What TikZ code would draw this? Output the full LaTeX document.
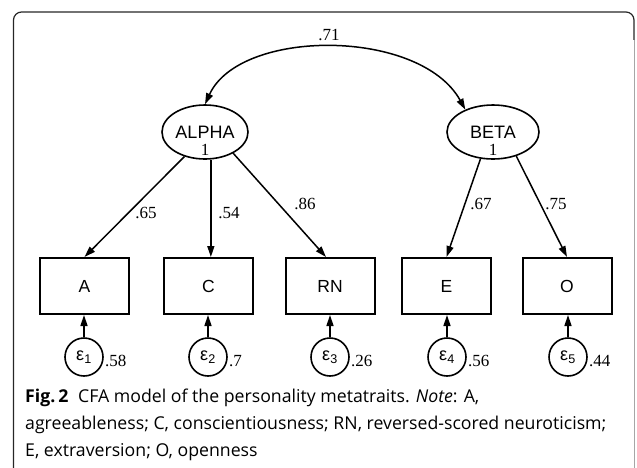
\documentclass[tikz,border=0pt]{standalone}
\usepackage{fontspec}
\setmainfont{Liberation Serif}
\newfontfamily\helv{Liberation Sans}
\newfontfamily\capfont{Open Sans}
\usetikzlibrary{shapes.geometric,arrows.meta,calc}
\begin{document}
\begin{tikzpicture}[x=1pt,y=-1pt,
  latent/.style={ellipse,draw,line width=1.6pt,minimum width=86pt,minimum height=54pt,inner sep=0pt,
    font=\helv\fontsize{18}{18}\selectfont},
  obs/.style={rectangle,draw,line width=2pt,minimum width=89pt,minimum height=56pt,
    font=\helv\fontsize{17.5}{17.5}\selectfont},
  err/.style={circle,draw,line width=1.6pt,minimum size=38pt,inner sep=0pt,
    font=\helv\fontsize{18}{18}\selectfont},
  lnk/.style={-{Triangle[length=11pt,width=7pt]},line width=1.5pt},
  coef/.style={font=\fontsize{17}{17}\selectfont},
  one/.style={anchor=center,label distance=-10pt,font=\fontsize{17}{17}\selectfont},
  capline/.style={anchor=base west,font=\capfont\fontsize{17.7}{20}\selectfont,inner sep=0pt},
]
\useasboundingbox (0,0) rectangle (637,467);
% frame
\draw[line width=1.2pt,black!85,rounded corners=8pt] (13.5,468) -- (13.5,12) -- (634,12) -- (634,468);
\draw[line width=1.2pt,white] (634,40) -- (634,468);
\draw[line width=1pt,black!35] (634,40) -- (634,468);

% latent variables
\node[latent,label={[one]-90:1}] (alpha) at (205,132) {ALPHA};
\node[latent,minimum width=92pt,label={[one]-90:1}] (beta) at (493,132) {BETA};

% observed
\node[obs] (a)  at (84.5,286) {A};
\node[obs] (c)  at (208.5,286) {C};
\node[obs] (rn) at (330,286) {RN};
\node[obs] (e)  at (446.5,286) {E};
\node[obs] (o)  at (567,286) {O};

% errors
\node[err] (e1) at (84,357)  {ε\textsubscript{1}};
\node[err] (e2) at (208,357) {ε\textsubscript{2}};
\node[err] (e3) at (330,357) {ε\textsubscript{3}};
\node[err] (e4) at (447,357) {ε\textsubscript{4}};
\node[err] (e5) at (568,357) {ε\textsubscript{5}};

\node[coef,anchor=west,inner sep=1pt] (v1) at ($(e1.east)+(0,4)$) {.58};
\node[coef,anchor=west,inner sep=1pt] (v2) at ($(e2.east)+(0,4)$) {.7};
\node[coef,anchor=west,inner sep=1pt] (v3) at ($(e3.east)+(0,4)$) {.26};
\node[coef,anchor=west,inner sep=1pt] (v4) at ($(e4.east)+(0,4)$) {.56};
\node[coef,anchor=west,inner sep=1pt] (v5) at ($(e5.east)+(0,4)$) {.44};

% covariance
\draw[lnk,{Triangle[length=11pt,width=7pt]}-{Triangle[length=11pt,width=7pt]}]
  (alpha.90) .. controls (240,28) and (420,28) .. (beta.141);
\node[coef] (r) at (329,35) {.71};

% loadings
\draw[lnk] (alpha.230) -- (a.north);
\draw[lnk] (alpha.282) -- (alpha.282 |- c.north);
\draw[lnk] (alpha.323) -- ($(rn.north)+(-4,0)$);
\draw[lnk] (beta.245) -- (e.north);
\draw[lnk] (beta.314) -- (o.north);

\node[coef] (l1) at (146,213) {.65};
\node[coef] (l2) at (229,213) {.54};
\node[coef] (l3) at (305,204) {.86};
\node[coef] (l4) at (481,204) {.67};
\node[coef] (l5) at (556,204) {.75};

% error arrows
\foreach \u/\v in {e1/a,e2/c,e3/rn,e4/e,e5/o}
  \draw[lnk] (\u.north) -- (\u.north |- \v.south);

% caption
\node[capline] (cap1) at (25,402) {\bfseries Fig.\,2\hspace{0.55em}\mdseries CFA model of the personality metatraits. \textit{Note}: A,};
\node[capline] (cap2) at (25,429) {agreeableness; C, conscientiousness; RN, reversed-scored neuroticism;};
\node[capline] (cap3) at (25,456) {E, extraversion; O, openness};
\end{tikzpicture}
\end{document}
